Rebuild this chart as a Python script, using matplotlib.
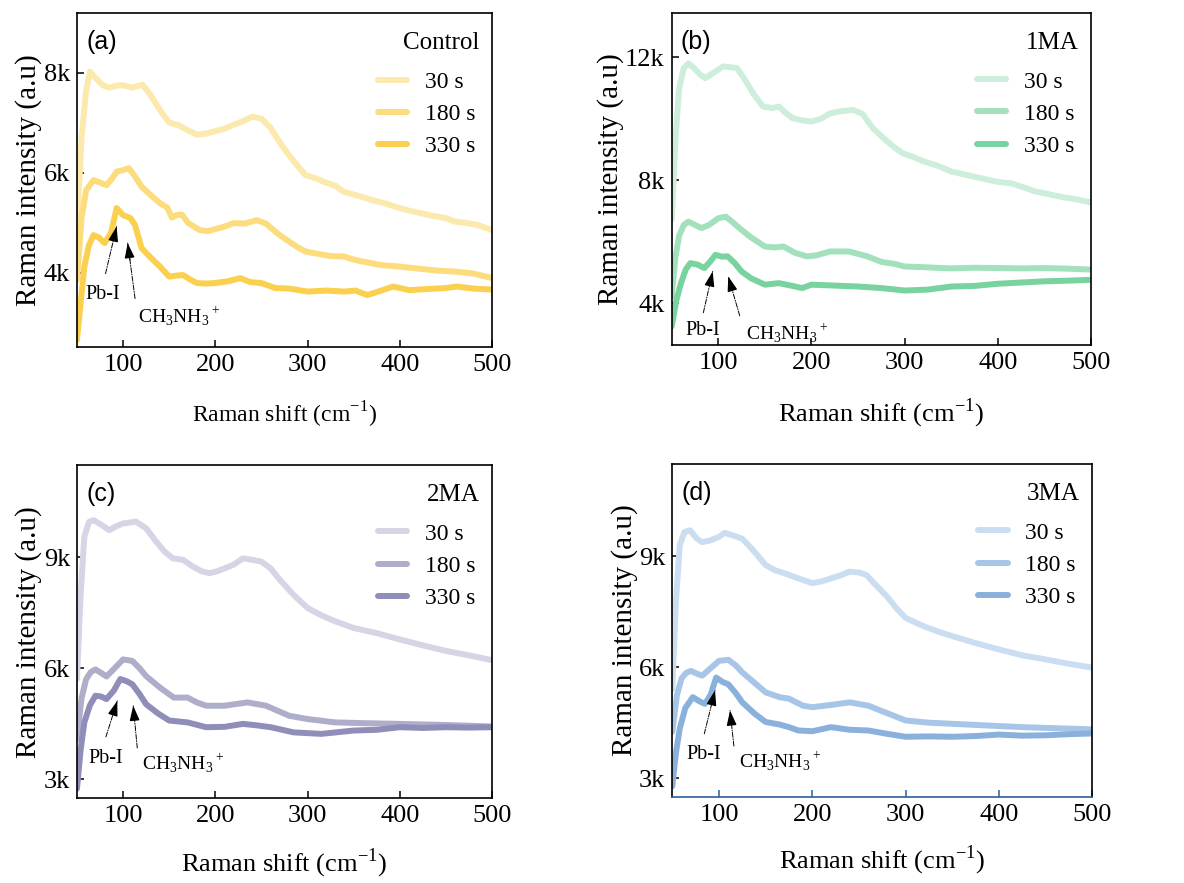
import matplotlib.pyplot as plt
from matplotlib.ticker import FixedLocator, FuncFormatter

# Raman spectra, intensity in counts, shift in cm-1
times = ['30 s', '180 s', '330 s']

# (a) Control
ctrl_x_30 = [50, 55, 60, 64, 70, 78, 85, 92, 100, 110, 121, 130, 140, 150, 160, 170, 180, 190, 200, 210, 220, 230, 240, 250, 260, 270, 281, 290, 298, 310, 320, 330, 339, 350, 360, 370, 385, 400, 410, 420, 435, 450, 460, 470, 485, 500]
ctrl_y_30 = [4920, 6700, 7650, 8020, 7900, 7750, 7700, 7740, 7750, 7700, 7760, 7550, 7250, 7000, 6950, 6850, 6760, 6780, 6830, 6880, 6960, 7030, 7120, 7080, 6900, 6600, 6320, 6120, 5950, 5880, 5800, 5740, 5620, 5560, 5510, 5450, 5380, 5290, 5240, 5200, 5140, 5090, 5020, 5000, 4950, 4850]
ctrl_x_180 = [50, 55, 60, 68, 75, 82, 88, 93, 100, 106, 112, 120, 130, 140, 148, 153, 158, 164, 170, 183, 192, 200, 210, 220, 232, 245, 255, 267, 280, 290, 298, 310, 325, 340, 350, 360, 380, 400, 420, 440, 460, 480, 500]
ctrl_y_180 = [3850, 5100, 5650, 5850, 5800, 5750, 5880, 6020, 6050, 6090, 5950, 5720, 5550, 5390, 5300, 5100, 5150, 5160, 5000, 4850, 4830, 4870, 4920, 4990, 4980, 5050, 4980, 4790, 4620, 4500, 4420, 4380, 4330, 4320, 4260, 4220, 4150, 4120, 4080, 4040, 4020, 3980, 3890]
ctrl_x_330 = [50, 54, 58, 63, 68, 74, 80, 87, 93, 100, 108, 113, 120, 130, 140, 150, 158, 165, 172, 180, 190, 200, 215, 227, 238, 250, 265, 280, 300, 320, 340, 352, 365, 380, 393, 410, 430, 450, 462, 480, 500]
ctrl_y_330 = [2650, 3400, 4120, 4550, 4750, 4700, 4590, 4800, 5290, 5150, 5090, 4950, 4490, 4300, 4120, 3920, 3940, 3950, 3870, 3790, 3780, 3790, 3830, 3890, 3810, 3790, 3690, 3680, 3620, 3640, 3620, 3640, 3550, 3640, 3720, 3650, 3670, 3690, 3720, 3680, 3660]

# (b) 1MA
ma1_x_30 = [50, 54, 58, 63, 68, 74, 80, 86, 95, 105, 112, 120, 128, 138, 148, 158, 165, 172, 180, 190, 200, 210, 220, 232, 245, 255, 266, 280, 290, 298, 310, 320, 335, 350, 360, 370, 385, 398, 415, 430, 440, 450, 470, 485, 500]
ma1_y_30 = [6720, 9300, 11000, 11650, 11800, 11650, 11450, 11320, 11500, 11700, 11680, 11650, 11300, 10800, 10400, 10350, 10400, 10200, 10020, 9950, 9910, 10000, 10180, 10250, 10290, 10150, 9690, 9300, 9050, 8880, 8750, 8620, 8480, 8290, 8220, 8150, 8050, 7960, 7900, 7750, 7640, 7580, 7450, 7380, 7280]
ma1_x_180 = [50, 54, 58, 63, 68, 75, 82, 90, 100, 108, 115, 125, 135, 150, 160, 170, 182, 195, 205, 220, 240, 260, 275, 290, 300, 320, 340, 350, 375, 400, 425, 450, 475, 500]
ma1_y_180 = [4230, 5500, 6200, 6550, 6660, 6550, 6450, 6550, 6770, 6820, 6650, 6390, 6150, 5850, 5820, 5850, 5650, 5530, 5560, 5690, 5690, 5530, 5350, 5280, 5200, 5180, 5150, 5140, 5160, 5150, 5140, 5150, 5130, 5100]
ma1_x_330 = [50, 55, 60, 65, 70, 78, 85, 91, 97, 104, 110, 118, 125, 135, 150, 165, 178, 190, 200, 225, 250, 275, 300, 325, 350, 375, 400, 425, 450, 475, 500]
ma1_y_330 = [3250, 4100, 4660, 5100, 5310, 5260, 5150, 5350, 5580, 5520, 5530, 5300, 5040, 4820, 4610, 4660, 4580, 4500, 4610, 4580, 4550, 4500, 4420, 4450, 4550, 4570, 4640, 4680, 4720, 4740, 4770]

# (c) 2MA
ma2_x_30 = [50, 54, 58, 63, 68, 76, 85, 92, 100, 114, 125, 135, 145, 154, 165, 175, 185, 194, 202, 210, 220, 230, 240, 250, 260, 270, 285, 300, 315, 330, 350, 375, 400, 425, 450, 475, 500]
ma2_y_30 = [5710, 8000, 9550, 9950, 10000, 9880, 9730, 9830, 9910, 9960, 9780, 9450, 9150, 8970, 8930, 8760, 8620, 8570, 8620, 8700, 8800, 8970, 8930, 8880, 8700, 8390, 7980, 7630, 7430, 7270, 7090, 6950, 6780, 6620, 6470, 6350, 6220]
ma2_x_180 = [50, 55, 60, 65, 70, 76, 82, 90, 100, 110, 118, 125, 140, 155, 170, 180, 190, 210, 235, 255, 268, 280, 300, 330, 360, 400, 450, 500]
ma2_y_180 = [4090, 5200, 5710, 5900, 5970, 5880, 5780, 5980, 6240, 6200, 6000, 5790, 5480, 5210, 5210, 5080, 4990, 4990, 5080, 4990, 4850, 4720, 4630, 4540, 4520, 4500, 4470, 4430]
ma2_x_330 = [50, 54, 58, 64, 70, 76, 82, 90, 97, 104, 110, 118, 125, 138, 150, 170, 190, 210, 230, 245, 260, 285, 315, 350, 375, 400, 425, 450, 475, 500]
ma2_y_330 = [2750, 3800, 4540, 5000, 5260, 5240, 5170, 5400, 5710, 5650, 5570, 5300, 5030, 4780, 4590, 4540, 4410, 4420, 4500, 4460, 4410, 4270, 4230, 4320, 4340, 4410, 4390, 4410, 4400, 4410]

# (d) 3MA
ma3_x_30 = [50, 54, 58, 63, 69, 76, 82, 90, 100, 106, 115, 125, 137, 150, 160, 170, 185, 200, 210, 220, 230, 240, 250, 258, 268, 280, 290, 300, 320, 335, 350, 375, 400, 425, 450, 475, 500]
ma3_y_30 = [5410, 7800, 9300, 9650, 9700, 9480, 9380, 9420, 9520, 9630, 9560, 9470, 9150, 8760, 8620, 8540, 8400, 8270, 8320, 8400, 8480, 8580, 8560, 8490, 8220, 7910, 7600, 7330, 7100, 6960, 6840, 6650, 6480, 6320, 6210, 6090, 5990]
ma3_x_180 = [50, 55, 60, 65, 70, 76, 82, 90, 100, 110, 118, 125, 138, 150, 165, 175, 190, 200, 220, 240, 260, 280, 300, 325, 350, 375, 400, 425, 450, 475, 500]
ma3_y_180 = [4250, 5250, 5700, 5850, 5900, 5830, 5770, 5950, 6170, 6200, 6050, 5860, 5580, 5320, 5190, 5150, 4960, 4920, 4980, 5050, 4960, 4760, 4560, 4500, 4470, 4440, 4410, 4380, 4360, 4340, 4320]
ma3_x_330 = [50, 54, 58, 64, 72, 79, 85, 91, 97, 104, 110, 118, 125, 138, 150, 165, 175, 185, 200, 220, 240, 260, 280, 300, 325, 350, 375, 400, 425, 450, 475, 500]
ma3_y_330 = [2780, 3700, 4340, 4900, 5190, 5080, 5010, 5250, 5720, 5600, 5540, 5300, 5050, 4750, 4520, 4450, 4380, 4290, 4270, 4380, 4310, 4290, 4200, 4120, 4130, 4120, 4140, 4180, 4150, 4160, 4190, 4210]

panels = [
    dict(tag='(a)', name='Control', rect=[0.065, 0.607, 0.3505, 0.378], ylim=(2510, 9190),
         yticks=[4000, 6000, 8000], colors=['#fce9ae', '#fcdc7c', '#fbd04e'],
         xs=[ctrl_x_30, ctrl_x_180, ctrl_x_330], ys=[ctrl_y_30, ctrl_y_180, ctrl_y_330],
         pbi=((78, 3750), (81, 3980), (93, 4920)), ma=((116, 3350), (113, 3480), (105, 4590)),
         xl_size=17, xl_pad=17),
    dict(tag='(b)', name='1MA', rect=[0.5673, 0.6093, 0.3542, 0.376], ylim=(2650, 13440),
         yticks=[4000, 8000, 12000], colors=['#cdeedb', '#a3e0bc', '#78d39e'],
         xs=[ma1_x_30, ma1_x_180, ma1_x_330], ys=[ma1_y_30, ma1_y_180, ma1_y_330],
         pbi=((83, 3420), (84, 3700), (94, 5040)), ma=((130, 3420), (123, 3600), (110.7, 4880)),
         xl_size=19, xl_pad=16),
    dict(tag='(c)', name='2MA', rect=[0.065, 0.0959, 0.3505, 0.3775], ylim=(2490, 11490),
         yticks=[3000, 6000, 9000], colors=['#d5d5e6', '#aeaecb', '#8e8eb9'],
         xs=[ma2_x_30, ma2_x_180, ma2_x_330], ys=[ma2_y_30, ma2_y_180, ma2_y_330],
         pbi=((81, 3830), (81.4, 4150), (93.7, 5120)), ma=((120, 3740), (115.4, 3850), (111, 4990)),
         xl_size=19, xl_pad=14),
    dict(tag='(d)', name='3MA', rect=[0.5678, 0.0977, 0.3548, 0.3768], ylim=(2500, 11490),
         yticks=[3000, 6000, 9000], colors=['#cbdef1', '#a7c5e6', '#89b1dc'],
         xs=[ma3_x_30, ma3_x_180, ma3_x_330], ys=[ma3_y_30, ma3_y_180, ma3_y_330],
         pbi=((84, 3890), (84.3, 4200), (95.8, 5370)), ma=((121, 3760), (116, 3870), (111.9, 4830)),
         xl_size=19, xl_pad=13, bottom_color='#2f5f9e'),
]

serif = ['Times New Roman', 'Liberation Serif', 'DejaVu Serif']
plt.rcParams['font.family'] = serif
plt.rcParams['mathtext.fontset'] = 'custom'
plt.rcParams['mathtext.rm'] = 'Liberation Serif'


def dashed_arrow(ax, tail, tip):
    # dash-dot shaft plus a solid head near the tip
    ax.annotate('', xy=tip, xytext=tail,
                arrowprops=dict(arrowstyle='-', color='black', lw=0.7,
                                linestyle=(0, (5, 1.5, 1, 1.5)), shrinkA=0, shrinkB=0))
    near = (tip[0] - 0.3 * (tip[0] - tail[0]), tip[1] - 0.3 * (tip[1] - tail[1]))
    ax.annotate('', xy=tip, xytext=near,
                arrowprops=dict(arrowstyle='-|>,head_length=0.9,head_width=0.3',
                                color='black', lw=0.9, shrinkA=0, shrinkB=0))


fig = plt.figure(figsize=(11.84, 8.83), dpi=100, facecolor='white')

for p in panels:
    ax = fig.add_axes(p['rect'])
    handles = []
    for x, y, c, t in zip(p['xs'], p['ys'], p['colors'], times):
        h, = ax.plot(x, y, color=c, lw=4.3, label=t, solid_capstyle='round', solid_joinstyle='round')
        handles.append(h)
    ax.set_xlim(50, 500)
    ax.set_ylim(*p['ylim'])
    ax.xaxis.set_major_locator(FixedLocator([100, 200, 300, 400, 500]))
    ax.yaxis.set_major_locator(FixedLocator(p['yticks']))
    ax.yaxis.set_major_formatter(FuncFormatter(lambda v, pos: f'{int(v / 1000)}k'))
    ax.tick_params(direction='in', length=5, width=1.1, labelsize=19, pad=5)
    for s in ax.spines.values():
        s.set_linewidth(1.2)
    if 'bottom_color' in p:
        ax.spines['bottom'].set_color(p['bottom_color'])
        ax.tick_params(axis='x', color=p['bottom_color'])
    ax.set_xlabel('Raman shift (cm$^{-1}$)', fontsize=p['xl_size'], labelpad=p['xl_pad'])
    ax.set_ylabel('Raman intensity (a.u)', fontsize=21, labelpad=1)
    ax.text(0.022, 0.95, p['tag'], transform=ax.transAxes, ha='left', va='top',
            fontsize=18, family=['Liberation Sans', 'DejaVu Sans'])
    ax.text(0.97, 0.91, p['name'], transform=ax.transAxes, ha='right', va='center', fontsize=18)
    ax.legend(handles=handles, loc='upper right', bbox_to_anchor=(1.0, 0.875), frameon=False,
              fontsize=17, handlelength=1.25, handletextpad=0.75, labelspacing=0.45,
              borderaxespad=0.3)

    text_pos, tail, tip = p['pbi']
    ax.text(text_pos[0], text_pos[1], 'Pb-I', fontsize=14.5, ha='center', va='top')
    dashed_arrow(ax, tail, tip)
    text_pos, tail, tip = p['ma']
    ax.text(text_pos[0], text_pos[1], r'CH$_3$NH$_3$$^+$', fontsize=14, ha='left', va='top')
    dashed_arrow(ax, tail, tip)

fig.savefig('out.png', dpi=100, facecolor='white')
